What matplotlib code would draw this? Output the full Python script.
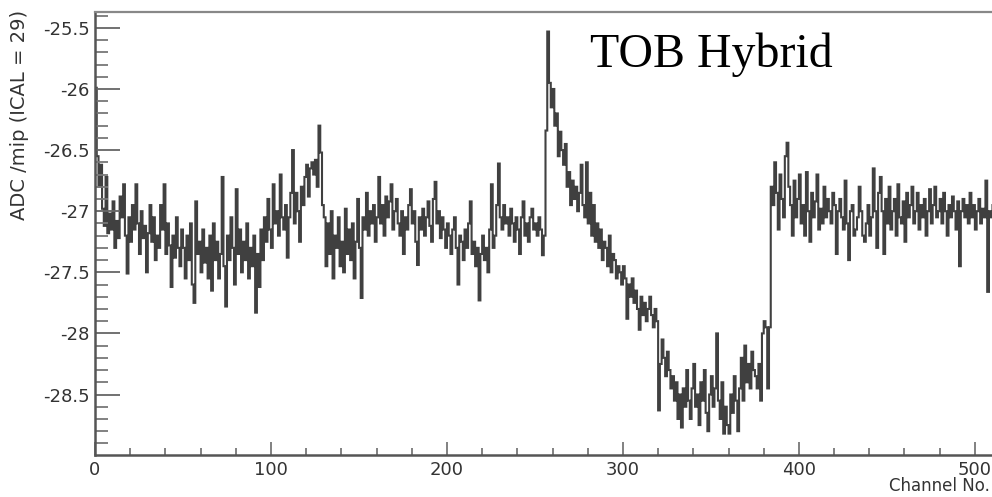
import numpy as np
import matplotlib.pyplot as plt
from matplotlib.ticker import MultipleLocator

# ADC per mip for each of the 512 channels
adc_per_mip = [
    -25.99, -26.55, -26.80, -26.62, -26.98, -27.12, -26.72, -27.18, -27.02, -27.15, -26.92, -27.30, -27.08, -27.22, -26.88, -27.05,
    -26.78, -27.20, -27.51, -27.05, -27.25, -26.95, -27.15, -26.78, -27.10, -27.35, -27.00, -27.22, -27.12, -27.50, -27.18, -26.95,
    -27.25, -27.05, -27.40, -27.20, -27.30, -26.95, -27.15, -26.78, -27.35, -27.10, -27.28, -27.62, -27.20, -27.38, -27.05, -27.30,
    -27.45, -27.15, -27.30, -27.55, -27.20, -27.40, -27.10, -27.60, -27.75, -26.92, -27.35, -27.25, -27.50, -27.15, -27.42, -27.30,
    -27.55, -27.20, -27.65, -27.10, -27.40, -27.25, -27.55, -27.35, -26.72, -27.45, -27.78, -27.20, -27.40, -27.05, -27.30, -27.60,
    -26.82, -27.35, -27.15, -27.50, -27.25, -27.40, -27.10, -27.55, -27.30, -27.45, -27.20, -27.83, -27.35, -27.62, -27.15, -27.40,
    -27.05, -27.25, -26.90, -27.15, -27.30, -26.78, -27.10, -27.00, -27.20, -26.70, -27.05, -27.15, -26.95, -27.38, -27.05, -26.85,
    -26.50, -27.10, -26.85, -27.00, -27.25, -26.80, -26.95, -26.72, -26.62, -26.88, -26.65, -26.60, -26.70, -26.58, -26.80, -26.30,
    -26.52, -26.95, -27.05, -27.45, -27.10, -27.35, -27.00, -27.55, -27.20, -27.30, -27.05, -27.45, -27.25, -27.50, -26.98, -27.35,
    -27.15, -27.40, -27.10, -27.55, -27.25, -26.90, -27.30, -27.71, -27.05, -27.15, -26.85, -27.20, -27.00, -27.10, -26.95, -27.25,
    -27.05, -26.72, -27.10, -26.95, -27.20, -26.88, -27.05, -26.92, -26.78, -27.15, -27.00, -26.90, -27.10, -27.20, -27.00, -27.35,
    -27.05, -27.15, -26.95, -26.82, -27.10, -27.00, -27.25, -27.44, -27.05, -27.15, -26.98, -27.20, -27.05, -26.92, -27.12, -27.25,
    -26.90, -26.76, -27.10, -27.00, -27.22, -27.05, -27.15, -27.30, -27.10, -27.20, -27.35, -27.15, -27.05, -27.30, -27.60, -27.20,
    -27.25, -27.40, -27.15, -27.30, -27.10, -26.92, -27.35, -27.25, -27.45, -27.30, -27.73, -27.35, -27.20, -27.40, -27.30, -27.50,
    -27.15, -26.78, -27.30, -27.20, -26.95, -26.61, -27.05, -27.15, -26.95, -27.10, -27.05, -27.20, -26.98, -27.10, -27.25, -27.05,
    -27.15, -27.35, -27.05, -26.92, -27.20, -27.10, -27.25, -27.05, -26.98, -27.15, -27.10, -27.20, -27.05, -27.15, -27.36, -27.20,
    -26.34, -25.53, -25.95, -26.15, -26.00, -26.30, -26.20, -26.55, -26.35, -26.50, -26.62, -26.45, -26.80, -26.68, -26.95, -26.75,
    -26.90, -26.80, -27.00, -26.85, -26.62, -26.95, -27.05, -26.60, -27.10, -26.85, -27.20, -26.95, -27.25, -27.10, -27.30, -27.15,
    -27.40, -27.25, -27.30, -27.45, -27.20, -27.50, -27.35, -27.40, -27.55, -27.45, -27.50, -27.60, -27.45, -27.55, -27.88, -27.60,
    -27.70, -27.55, -27.75, -27.65, -27.80, -27.97, -27.70, -27.85, -27.75, -27.90, -27.80, -27.70, -27.85, -27.95, -27.80, -27.90,
    -28.63, -28.25, -28.05, -28.20, -28.35, -28.15, -28.30, -28.45, -28.35, -28.55, -28.40, -28.70, -28.50, -28.77, -28.45, -28.60,
    -28.30, -28.55, -28.70, -28.45, -28.25, -28.60, -28.50, -28.75, -28.40, -28.55, -28.30, -28.65, -28.80, -28.50, -28.35, -28.60,
    -28.45, -28.00, -28.55, -28.70, -28.40, -28.82, -28.60, -28.75, -28.82, -28.50, -28.65, -28.35, -28.55, -28.80, -28.45, -28.20,
    -28.55, -28.10, -28.40, -28.25, -28.45, -28.15, -28.30, -28.35, -28.45, -28.25, -28.55, -28.00, -27.90, -27.95, -28.45, -27.95,
    -26.80, -26.95, -26.60, -26.85, -27.15, -26.70, -26.90, -27.05, -26.55, -26.44, -26.80, -26.95, -27.20, -26.75, -27.05, -26.90,
    -26.70, -27.10, -26.95, -27.20, -26.68, -27.00, -27.25, -26.85, -27.05, -26.92, -26.70, -27.15, -26.98, -27.10, -26.80, -27.05,
    -26.90, -27.00, -27.10, -26.85, -26.95, -27.35, -27.00, -26.90, -27.05, -27.15, -26.75, -27.10, -27.40, -27.00, -26.95, -27.20,
    -27.15, -27.05, -26.80, -27.00, -27.20, -27.25, -27.10, -26.95, -27.20, -27.05, -26.65, -27.00, -27.30, -26.85, -26.72, -27.00,
    -27.35, -26.90, -27.10, -26.80, -27.15, -27.00, -26.90, -27.20, -26.78, -27.05, -27.10, -26.92, -27.25, -26.85, -27.05, -26.95,
    -26.80, -27.10, -27.00, -26.85, -27.15, -26.95, -27.05, -26.90, -27.20, -27.00, -26.82, -27.10, -26.95, -26.80, -27.05, -27.00,
    -26.90, -27.10, -26.85, -27.00, -27.20, -26.95, -27.05, -26.88, -27.00, -27.15, -26.92, -27.45, -27.00, -26.90, -27.05, -26.95,
    -27.10, -26.85, -27.05, -26.95, -27.15, -27.00, -26.90, -27.10, -26.98, -27.05, -26.75, -27.66, -27.00, -27.05, -26.95, -27.10,
]
n_channels = len(adc_per_mip)

fig = plt.figure(figsize=(9.92, 4.97), dpi=100)
# axes run slightly past the right edge, as in the cropped original
ax = fig.add_axes([95 / 992, 42 / 497, 901 / 992, 443 / 497])

edges = np.arange(n_channels + 1)
ax.stairs(adc_per_mip, edges, baseline=None, color='#404040', linewidth=1.5)

ax.set_xlim(0, n_channels)
ax.set_ylim(-28.995, -25.37)

ax.xaxis.set_major_locator(MultipleLocator(100))
ax.xaxis.set_minor_locator(MultipleLocator(20))
ax.yaxis.set_major_locator(MultipleLocator(0.5))
ax.yaxis.set_minor_locator(MultipleLocator(0.1))
ax.yaxis.set_major_formatter(plt.FuncFormatter(lambda v, p: f"{v:g}"))

ax.tick_params(axis='y', which='major', direction='in', length=18, width=1.3,
               color='#666666', labelsize=13, labelcolor='#333333', pad=4)
ax.tick_params(axis='y', which='minor', direction='in', length=9, width=1.3, color='#777777')
ax.tick_params(axis='x', which='major', direction='in', length=9.5, width=1.3,
               color='#777777', labelsize=13, labelcolor='#333333', pad=4)
ax.tick_params(axis='x', which='minor', direction='in', length=5, width=1.3, color='#777777')

for side in ['left', 'bottom']:
    ax.spines[side].set_color('#555555')
    ax.spines[side].set_linewidth(1.8)
ax.spines['top'].set_color('#888888')
ax.spines['top'].set_linewidth(1.6)
ax.spines['right'].set_visible(False)

fig.text(20 / 992, 1 - 10 / 497, 'ADC /mip (ICAL = 29)', rotation=90,
         ha='center', va='top', fontsize=14, color='#333333')
fig.text(0.998, 2 / 497, 'Channel No.', ha='right', va='bottom',
         fontsize=12, color='#333333')
fig.text(590 / 992, 1 - 67 / 497, 'TOB Hybrid', family='Liberation Serif',
         fontsize=34.5, va='baseline', ha='left', color='black')

fig.savefig('out.png', dpi=100)
